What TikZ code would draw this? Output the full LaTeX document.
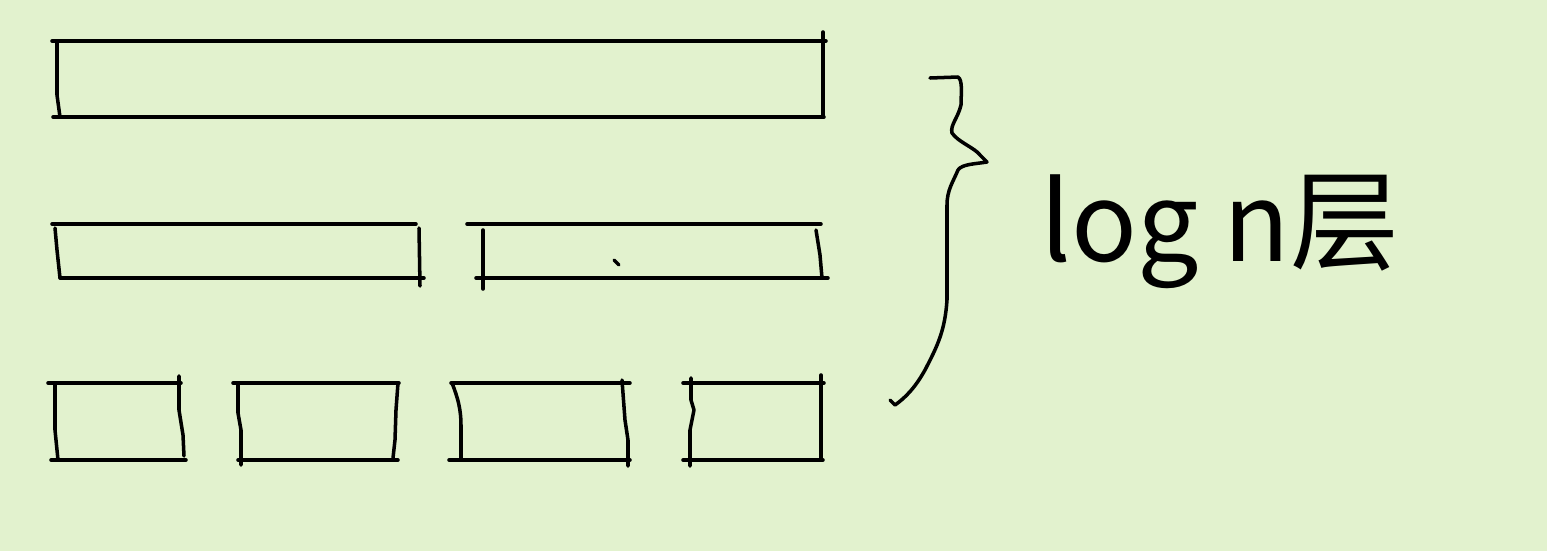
\documentclass[tikz,border=0pt]{standalone}
\usepackage{fontspec}
\newfontfamily\cjk{Noto Sans CJK SC}
\definecolor{paper}{RGB}{226,242,206}

\begin{document}
\begin{tikzpicture}[x=0.01cm, y=-0.01cm, line width=1pt, line cap=round, line join=round]
    \fill[paper] (0,0) rectangle (1547,551);
    \useasboundingbox (0,0) rectangle (1547,551);
    %row 1
    \draw (52,41) -- (826,41);
    \draw (53,117) -- (824,117);
    \draw (57,41) -- (57,95) -- (60,117);
    \draw (823,32) -- (823,117);
    %row 2
    \draw (52,224) -- (416,224);
    \draw (60,278) -- (424,278);
    \draw (55,228) -- (57,250) -- (60,278);
    \draw (419,228) -- (420,286);
    \draw (467,224) -- (821,224);
    \draw (476,278) -- (828,278);
    \draw (483,230) -- (483,289);
    \draw (816,230) -- (820,255) -- (822,278);
    \draw (614,260) -- (619,265);
    %row 3
    \draw (48,383) -- (181,383);
    \draw (51,460) -- (186,460);
    \draw (55,383) -- (55,430) -- (58,460);
    \draw (179,376) -- (179,410) -- (183,435) -- (184,456);
    \draw (233,383) -- (399,383);
    \draw (238,460) -- (398,460);
    \draw (238,383) -- (238,413) -- (241,430) -- (241,465);
    \draw (398,383) -- (396,410) -- (395,440) -- (393,458);
    \draw (451,383) -- (630,383);
    \draw (449,460) -- (630,460);
    \draw (452,383) .. controls (458,398) and (461,410) .. (461,425) -- (461,460);
    \draw (622,380) -- (625,420) -- (628,440) -- (628,466);
    \draw (683,383) -- (824,383);
    \draw (683,460) -- (823,460);
    \draw (691,378) -- (691,400) -- (694,410) -- (690,430) -- (690,466);
    \draw (821,375) -- (821,460);
    %brace
    \draw (930,78) -- (958,77) .. controls (963,80) and (961,95) .. (961,105)
        .. controls (958,118) and (950,125) .. (952,133)
        .. controls (958,142) and (975,148) .. (980,155) -- (987,162)
        .. controls (975,164) and (962,164) .. (958,170)
        .. controls (953,182) and (947,190) .. (947,205) -- (947,300)
        .. controls (945,330) and (938,345) .. (925,370)
        .. controls (915,388) and (905,398) .. (895,405) -- (890,400);
    \node (layers) at (1220,232) {\cjk\fontsize{31}{37}\selectfont log n层};
\end{tikzpicture}
\end{document}
